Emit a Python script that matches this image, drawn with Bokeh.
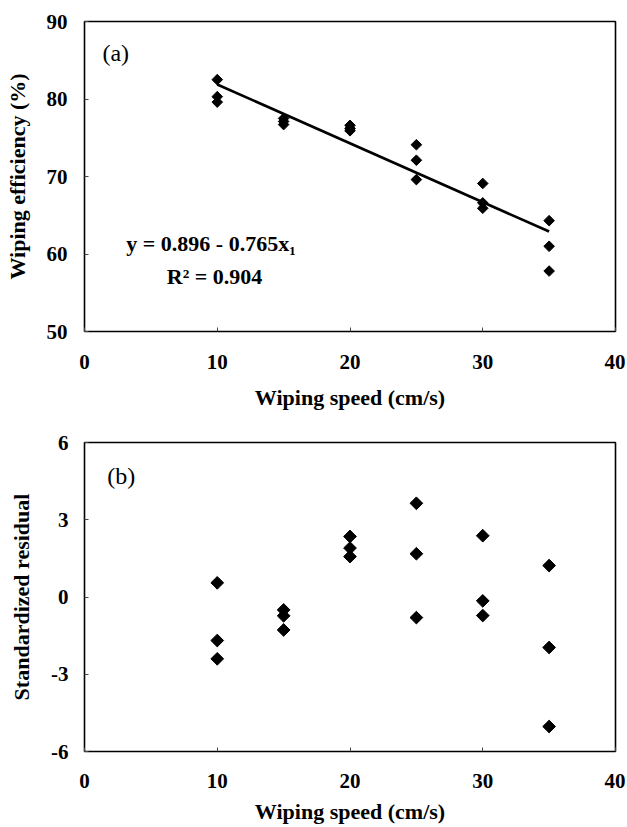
import numpy as np
from bokeh.plotting import figure
from bokeh.layouts import column
from bokeh.models import Range1d, FixedTicker, Label
from bokeh.embed import file_html
from bokeh.resources import INLINE

# ---- data ----
speed_a = [10, 10, 10, 15, 15, 15, 20, 20, 20, 25, 25, 25, 30, 30, 30, 35, 35, 35]
efficiency = [82.5, 80.3, 79.6, 77.5, 77.1, 76.7, 76.6, 76.2, 75.9,
              74.1, 72.1, 69.6, 69.1, 66.6, 65.9, 64.3, 61.0, 57.8]
speed_b = [10, 10, 10, 15, 15, 15, 20, 20, 20, 25, 25, 25, 30, 30, 30, 35, 35, 35]
residual = [0.55, -1.69, -2.40, -0.50, -0.73, -1.28, 2.35, 1.90, 1.57,
            3.64, 1.68, -0.80, 2.38, -0.15, -0.72, 1.22, -1.96, -5.03]
x_ticks = [0, 10, 20, 30, 40]
y_ticks_a = [50, 60, 70, 80, 90]
y_ticks_b = [-6, -3, 0, 3, 6]
eq_text = "y = 0.896 - 0.765x\u2081"
r2_text = "R\u00b2 = 0.904"

FONT = "Liberation Serif"
W = 625


def style(p, ylabel, yticks, label_standoff, title_standoff):
    p.xaxis.ticker = FixedTicker(ticks=x_ticks)
    p.yaxis.ticker = FixedTicker(ticks=yticks)
    p.yaxis.major_label_overrides = {t: str(t) for t in yticks}
    p.xaxis.major_label_overrides = {t: str(t) for t in x_ticks}
    p.xgrid.visible = False
    p.ygrid.visible = False
    p.outline_line_color = "black"
    p.outline_line_width = 1.6
    p.outline_line_alpha = 1.0
    for ax in (p.xaxis, p.yaxis):
        ax.axis_line_color = None
        ax.major_tick_in = 4
        ax.major_tick_out = 0
        ax.minor_tick_line_color = None
        ax.major_tick_line_color = "#444444"
        ax.major_label_text_font = FONT
        ax.major_label_text_font_style = "bold"
        ax.major_label_text_font_size = "21px"
        ax.major_label_text_color = "black"
        ax.axis_label_text_font = FONT
        ax.axis_label_text_font_style = "bold"
        ax.axis_label_text_font_size = "22px"
        ax.axis_label_text_color = "black"
    p.xaxis.axis_label = "Wiping speed (cm/s)"
    p.yaxis.axis_label = ylabel
    p.xaxis.major_label_standoff = label_standoff
    p.xaxis.axis_label_standoff = title_standoff
    p.yaxis.major_label_standoff = 17
    p.yaxis.axis_label_standoff = 14
    p.yaxis.major_label_orientation = "horizontal"


# ---- panel (a) ----
pa = figure(width=W, height=412, output_backend="svg", toolbar_location=None,
            x_range=Range1d(0, 40), y_range=Range1d(50, 90),
            min_border_top=21, min_border_bottom=81, min_border_left=84, min_border_right=10)
style(pa, "Wiping efficiency (%)", y_ticks_a, 23, 13)

slope, intercept = np.polyfit(speed_a, efficiency, 1)
fit_x = np.array([min(speed_a), max(speed_a)])
pa.line(fit_x, intercept + slope * fit_x, line_color="black", line_width=2.6)
pa.scatter(speed_a, efficiency, marker="square", angle=np.pi / 4, size=7.5,
           fill_color="black", line_color="black")

pa.add_layout(Label(x=1.35, y=86.0, text="(a)", text_font=FONT, text_font_size="24px",
                    text_baseline="middle", text_color="black"))
pa.add_layout(Label(x=3.15, y=61.3, text=eq_text, text_font=FONT, text_font_size="22px",
                    text_font_style="bold", text_baseline="middle", text_color="black"))
pa.add_layout(Label(x=6.2, y=57.1, text=r2_text, text_font=FONT, text_font_size="22px",
                    text_font_style="bold", text_baseline="middle", text_color="black"))

# ---- panel (b) ----
pb = figure(width=W, height=414, output_backend="svg", toolbar_location=None,
            x_range=Range1d(0, 40), y_range=Range1d(-6, 6),
            min_border_top=30, min_border_bottom=75, min_border_left=80, min_border_right=9)
style(pb, "Standardized residual", y_ticks_b, 22, 8)
pb.yaxis.major_label_standoff = 16
pb.scatter(speed_b, residual, marker="square", angle=np.pi / 4, size=9,
           fill_color="black", line_color="black")
pb.add_layout(Label(x=1.72, y=4.68, text="(b)", text_font=FONT, text_font_size="24px",
                    text_baseline="middle", text_color="black"))

layout = column(pa, pb, spacing=0)
open("out.html", "w").write(file_html(layout, INLINE))
